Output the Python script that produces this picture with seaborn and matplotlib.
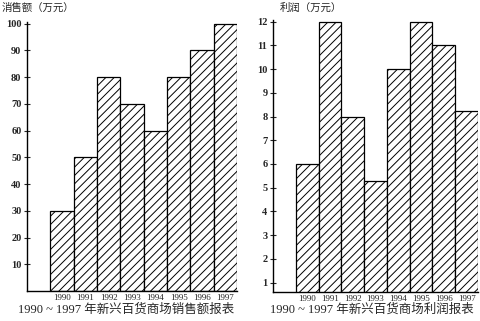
import matplotlib
matplotlib.use("Agg")
import matplotlib.pyplot as plt
import seaborn as sns
import pandas as pd

years = ["1990", "1991", "1992", "1993", "1994", "1995", "1996", "1997"]
sales = [30, 50, 80, 70, 60, 80, 90, 100]
profit = [6, 12, 8, 5.3, 10, 12, 11, 8.25]
sales_ticks = [10, 20, 30, 40, 50, 60, 70, 80, 90, 100]
profit_ticks = [1, 2, 3, 4, 5, 6, 7, 8, 9, 10, 11, 12]

sns.set_style("white")
plt.rcParams['font.family'] = ['Liberation Serif', 'Noto Sans CJK SC', 'DejaVu Sans']
plt.rcParams['hatch.linewidth'] = 0.7

fig = plt.figure(figsize=(4.81, 3.21), dpi=100)
ax1 = fig.add_axes([27/481, 1-291/321, (237-27)/481, (291-22)/321])
ax2 = fig.add_axes([273/481, 1-292/321, (478-273)/481, (292-20)/321])

df1 = pd.DataFrame({"year": years, "v": sales})
df2 = pd.DataFrame({"year": years, "v": profit})

for ax, df, ticks, ylim in [(ax1, df1, sales_ticks, (0, 100.6)),
                            (ax2, df2, profit_ticks, (0.6, 12.07))]:
    sns.barplot(data=df, x="year", y="v", ax=ax, color="white",
                edgecolor="black", linewidth=0.9, width=1.0, saturation=1)
    for p in ax.patches:
        p.set_hatch("////")
        p.set_facecolor("white")
        p.set_edgecolor("black")
    ax.set_xlim(-1.5, 7.5)
    ax.set_ylim(*ylim)
    ax.set_yticks(ticks)
    ax.set_yticklabels([str(t) for t in ticks], fontsize=7.5, fontweight="bold")
    ax.set_xticks(range(len(years)))
    ax.set_xticklabels(years, fontsize=6.5)
    ax.set_xlabel("")
    ax.set_ylabel("")
    ax.spines["top"].set_visible(False)
    ax.spines["right"].set_visible(False)
    ax.spines["left"].set_linewidth(1.0)
    ax.spines["bottom"].set_linewidth(1.0)
    ax.spines["left"].set_color("black")
    ax.spines["bottom"].set_color("black")
    ax.tick_params(axis="y", direction="inout", length=4, width=0.8, pad=2, left=True)
    ax.tick_params(axis="x", length=0, pad=2)
    ax.set_facecolor("white")

fig.text(2/481, 1-8/321, "消售额（万元）", fontsize=7.5, va="center", ha="left",
         family=['Noto Sans CJK SC'])
fig.text(280/481, 1-8/321, "利润（万元）", fontsize=7.5, va="center", ha="left",
         family=['Noto Sans CJK SC'])
fig.text(126/481, 1-310/321, "1990 ~ 1997 年新兴百货商场销售额报表", fontsize=9,
         va="center", ha="center")
fig.text(372/481, 1-310/321, "1990 ~ 1997 年新兴百货商场利润报表", fontsize=9,
         va="center", ha="center")

fig.savefig("out.png", dpi=100, facecolor="white")
